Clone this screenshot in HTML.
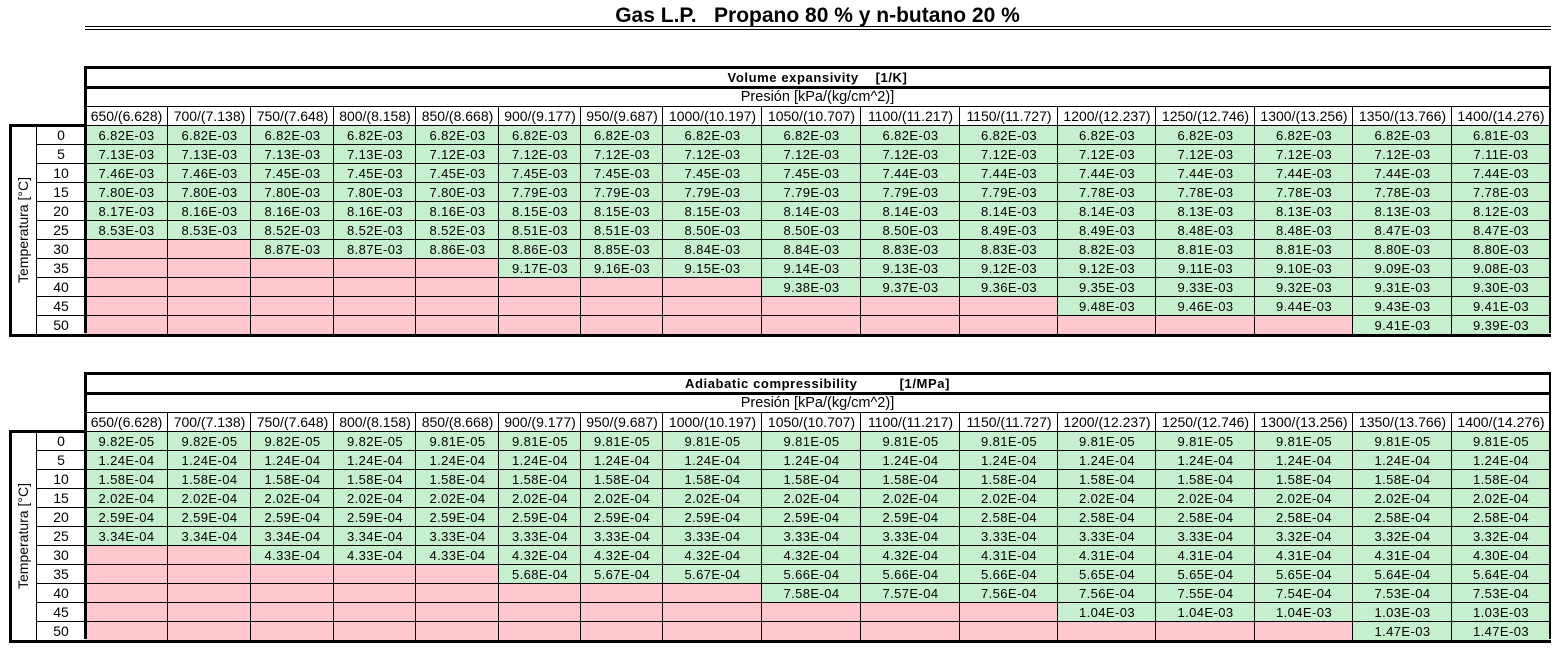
<!DOCTYPE html>
<html><head><meta charset="utf-8"><style>
body{margin:0;width:1557px;height:648px;background:#fff;position:relative;overflow:hidden;font-family:"Liberation Sans",sans-serif}
.a{position:absolute;box-sizing:border-box}
.t{position:absolute;box-sizing:border-box;text-align:center;white-space:nowrap;overflow:hidden}
</style></head><body>
<div class="t" style="left:85px;width:1465px;top:4px;font-size:21px;font-weight:bold;line-height:24px">Gas L.P.&nbsp;&nbsp; Propano 80 % y n-butano 20 %</div>
<div class="a" style="left:85px;width:1466px;top:26px;height:1px;background:#000"></div>
<div class="a" style="left:85px;width:1466px;top:29px;height:1px;background:#000"></div>
<div id="root"></div>
<script>
const X=[85,168,251,334,416,499,581,663,762,861,960,1058,1156,1255,1353,1452,1550];
const H=["650/(6.628)","700/(7.138)","750/(7.648)","800/(8.158)","850/(8.668)","900/(9.177)","950/(9.687)","1000/(10.197)","1050/(10.707)","1100/(11.217)","1150/(11.727)","1200/(12.237)","1250/(12.746)","1300/(13.256)","1350/(13.766)","1400/(14.276)"];
const T=[0,5,10,15,20,25,30,35,40,45,50];
const P=[0,0,0,0,0,0,2,5,8,11,14];
function s(a){return a.split(" ");}
const D1=[
"6.82 6.82 6.82 6.82 6.82 6.82 6.82 6.82 6.82 6.82 6.82 6.82 6.82 6.82 6.82 6.81",
"7.13 7.13 7.13 7.13 7.12 7.12 7.12 7.12 7.12 7.12 7.12 7.12 7.12 7.12 7.12 7.11",
"7.46 7.46 7.45 7.45 7.45 7.45 7.45 7.45 7.45 7.44 7.44 7.44 7.44 7.44 7.44 7.44",
"7.80 7.80 7.80 7.80 7.80 7.79 7.79 7.79 7.79 7.79 7.79 7.78 7.78 7.78 7.78 7.78",
"8.17 8.16 8.16 8.16 8.16 8.15 8.15 8.15 8.14 8.14 8.14 8.14 8.13 8.13 8.13 8.12",
"8.53 8.53 8.52 8.52 8.52 8.51 8.51 8.50 8.50 8.50 8.49 8.49 8.48 8.48 8.47 8.47",
"8.87 8.87 8.86 8.86 8.85 8.84 8.84 8.83 8.83 8.82 8.81 8.81 8.80 8.80",
"9.17 9.16 9.15 9.14 9.13 9.12 9.12 9.11 9.10 9.09 9.08",
"9.38 9.37 9.36 9.35 9.33 9.32 9.31 9.30",
"9.48 9.46 9.44 9.43 9.41",
"9.41 9.39"].map(r=>s(r).map(v=>v+"E-03"));
const D2=[
"9.82E-05 9.82E-05 9.82E-05 9.82E-05 9.81E-05 9.81E-05 9.81E-05 9.81E-05 9.81E-05 9.81E-05 9.81E-05 9.81E-05 9.81E-05 9.81E-05 9.81E-05 9.81E-05",
Array(16).fill("1.24E-04").join(" "),
Array(16).fill("1.58E-04").join(" "),
Array(16).fill("2.02E-04").join(" "),
Array(10).fill("2.59E-04").concat(Array(6).fill("2.58E-04")).join(" "),
"3.34 3.34 3.34 3.34 3.33 3.33 3.33 3.33 3.33 3.33 3.33 3.33 3.33 3.32 3.32 3.32".split(" ").map(v=>v+"E-04").join(" "),
"4.33 4.33 4.33 4.32 4.32 4.32 4.32 4.32 4.31 4.31 4.31 4.31 4.31 4.30".split(" ").map(v=>v+"E-04").join(" "),
"5.68 5.67 5.67 5.66 5.66 5.66 5.65 5.65 5.65 5.64 5.64".split(" ").map(v=>v+"E-04").join(" "),
"7.58 7.57 7.56 7.56 7.55 7.54 7.53 7.53".split(" ").map(v=>v+"E-04").join(" "),
"1.04E-03 1.04E-03 1.04E-03 1.03E-03 1.03E-03",
"1.47E-03 1.47E-03"].map(s);
let h="";
function box(l,t,w,ht,st){h+=`<div class="a" style="left:${l}px;top:${t}px;width:${w}px;height:${ht}px;${st}"></div>`;}
function txt(l,t,w,ht,tx,st){h+=`<div class="t" style="left:${l}px;top:${t}px;width:${w}px;height:${ht}px;line-height:${ht}px;${st}">${tx}</div>`;}
function table(y0,title,D){
 txt(85,y0,1465,20,title,"font-size:13px;font-weight:bold;letter-spacing:0.6px;");
 txt(85,y0+20,1465,19,"Presión [kPa/(kg/cm^2)]","font-size:14.5px;");
 for(let i=0;i<16;i++){txt(X[i],y0+39,X[i+1]-X[i],19,H[i],"font-size:14px;");}
 const dy=y0+58;
 for(let r=0;r<11;r++){
  const y=dy+r*19;
  txt(37,y,48,19,T[r],"font-size:14px;");
  for(let c=0;c<16;c++){
   const pink=c<P[r];
   box(X[c],y,X[c+1]-X[c],19,"background:"+(pink?"#ffc7ce":"#c6efce"));
   if(!pink) txt(X[c],y,X[c+1]-X[c],19,D[r][c-P[r]],"font-size:13px;letter-spacing:0.4px;");
  }
 }
 for(let r=0;r<=11;r++) box(37,dy+r*19-1,1514,1,"background:#000");
 box(85,y0+38,1466,1,"background:#000");
 for(let i=1;i<16;i++){box(X[i]-1,y0+39,1,19+209,"background:#000");}
 box(36,dy,1,209,"background:#000");
 box(85,y0-2,1466,3,"background:#000");
 box(85,y0+18,1466,3,"background:#000");
 box(84,y0-2,3,267,"background:#000");
 box(1549,y0-2,2,267,"background:#000");
 box(9,dy-2,78,3,"background:#000");
 box(9,dy+208,1542,3,"background:#000");
 box(9,dy-2,3,213,"background:#000");
 h+=`<div class="t" style="left:${23-65}px;top:${dy+104-8}px;width:130px;height:16px;line-height:16px;font-size:14px;transform:rotate(-90deg)">Temperatura [°C]</div>`;
}
table(68,"Volume expansivity&nbsp;&nbsp;&nbsp; [1/K]",D1);
table(374,"Adiabatic compressibility&nbsp;&nbsp;&nbsp;&nbsp;&nbsp;&nbsp;&nbsp;&nbsp;&nbsp; [1/MPa]",D2);
document.getElementById("root").innerHTML=h;
</script>
</body></html>
